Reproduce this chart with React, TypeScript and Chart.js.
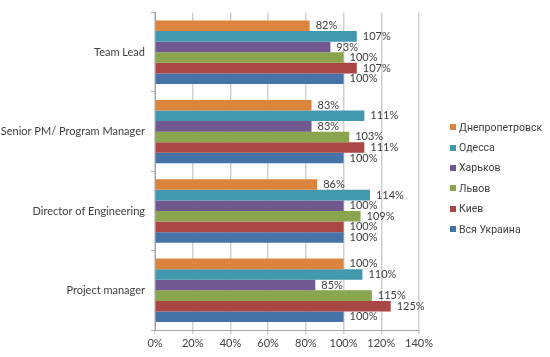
import React, { useEffect, useRef } from "react";
import { Chart, registerables } from "chart.js";

Chart.register(...registerables);

const categories = ["Team Lead", "Senior PM/ Program Manager", "Director of Engineering", "Project manager"];
const seriesNames = ["Днепропетровск", "Одесса", "Харьков", "Львов", "Киев", "Вся Украина"];
const dnepr = [82, 83, 86, 100];
const odessa = [107, 111, 114, 110];
const kharkov = [93, 83, 100, 85];
const lviv = [100, 103, 109, 115];
const kiev = [107, 111, 100, 125];
const ukraine = [100, 100, 100, 100];
const seriesValues = [dnepr, odessa, kharkov, lviv, kiev, ukraine];
const colors = ["#DB843D", "#4198AF", "#71588F", "#89A54E", "#AA4643", "#4572A7"];
const xTicks = [0, 20, 40, 60, 80, 100, 120, 140];

const FONT = "Lato, 'Open Sans', 'DejaVu Sans', sans-serif";
const LEGEND_FONT = "Roboto, 'Open Sans', sans-serif";
const TEXT = "#404040";

const labelPlugin = {
  id: "barLabels",
  afterDatasetsDraw(chart: any) {
    const ctx = chart.ctx;
    ctx.save();
    ctx.font = `11px ${FONT}`;
    ctx.fillStyle = TEXT;
    ctx.textAlign = "left";
    ctx.textBaseline = "middle";
    chart.data.datasets.forEach((ds: any, i: number) => {
      const meta = chart.getDatasetMeta(i);
      meta.data.forEach((bar: any, j: number) => {
        ctx.fillText(ds.data[j] + "%", bar.x + 6, bar.y);
      });
    });
    ctx.restore();
  },
};

export default function App() {
  const ref = useRef<HTMLCanvasElement>(null);
  useEffect(() => {
    const chart = new Chart(ref.current!, {
      type: "bar",
      data: {
        labels: categories,
        datasets: seriesNames.map((name, i) => ({
          label: name,
          data: seriesValues[i],
          backgroundColor: colors[i],
          borderWidth: 0,
          categoryPercentage: 0.8,
          barPercentage: 1,
        })),
      },
      options: {
        indexAxis: "y",
        responsive: false,
        animation: false,
        devicePixelRatio: 1,
        layout: { padding: { left: 0, right: 131, top: 11, bottom: 0 } },
        plugins: { legend: { display: false }, tooltip: { enabled: false } },
        scales: {
          x: {
            min: 0,
            max: 140,
            afterBuildTicks: (s: any) => {
              s.ticks = xTicks.map((v) => ({ value: v }));
            },
            afterFit: (s: any) => {
              s.height = 27;
            },
            grid: { color: "#d0d0d0", lineWidth: 1.5, tickLength: 4, drawTicks: true },
            border: { color: "#a6a6a6", width: 1 },
            ticks: {
              color: TEXT,
              font: { family: FONT, size: 11 },
              padding: 3,
              callback: (v: any) => v + "%",
            },
          },
          y: {
            afterFit: (s: any) => {
              s.width = 155;
            },
            grid: { drawOnChartArea: false, color: "#a6a6a6", tickLength: 4, offset: true },
            border: { color: "#a6a6a6", width: 1 },
            ticks: { color: TEXT, font: { family: FONT, size: 11 }, padding: 6 },
          },
        },
      },
      plugins: [labelPlugin],
    } as any);
    return () => chart.destroy();
  }, []);

  return (
    <div style={{ position: "fixed", left: 0, top: 0, width: 550, height: 357, background: "#fff" }}>
      <canvas ref={ref} width={550} height={357} style={{ display: "block" }} />
      <div style={{ position: "absolute", left: 450, top: 117, fontFamily: LEGEND_FONT, fontSize: 10.5, color: TEXT }}>
        {seriesNames.map((n, i) => (
          <div key={n} style={{ height: 20.4, display: "flex", alignItems: "center", whiteSpace: "nowrap" }}>
            <span style={{ width: 6, height: 6, background: colors[i], display: "inline-block", marginRight: 3 }} />
            {n}
          </div>
        ))}
      </div>
    </div>
  );
}
